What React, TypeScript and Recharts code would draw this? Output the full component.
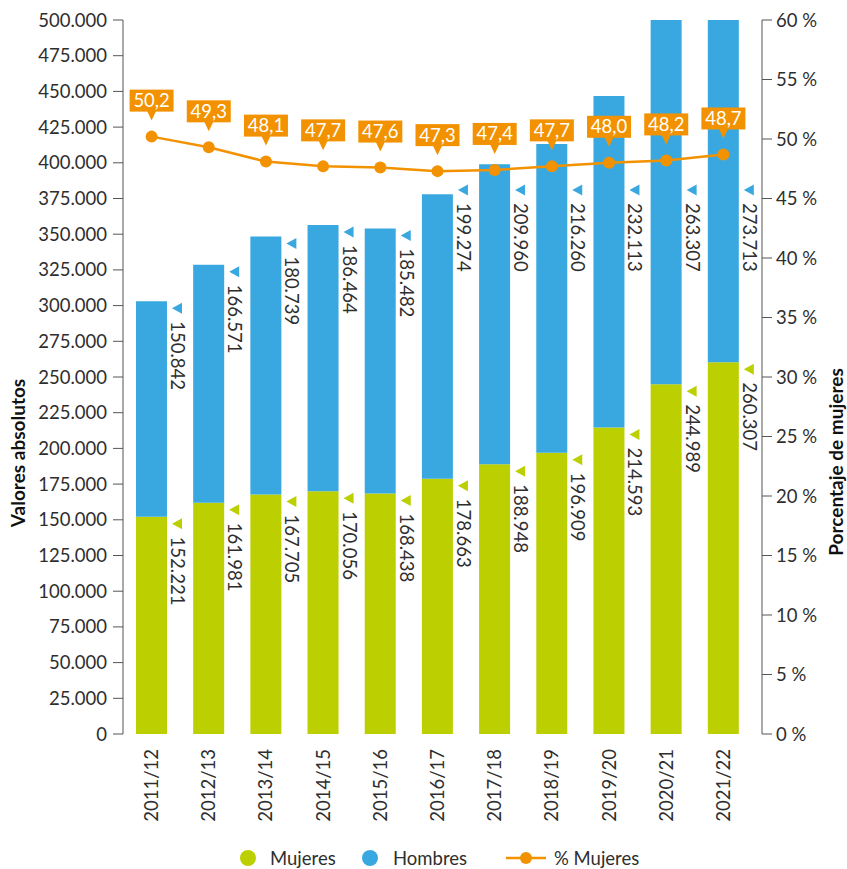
import React from 'react';
import { ComposedChart, Bar, Line, XAxis, YAxis, LabelList } from 'recharts';

const categorias = ['2011/12', '2012/13', '2013/14', '2014/15', '2015/16', '2016/17', '2017/18', '2018/19', '2019/20', '2020/21', '2021/22'];
const mujeres = [152221, 161981, 167705, 170056, 168438, 178663, 188948, 196909, 214593, 244989, 260307];
const hombres = [150842, 166571, 180739, 186464, 185482, 199274, 209960, 216260, 232113, 263307, 273713];
const pctMujeres = [50.2, 49.3, 48.1, 47.7, 47.6, 47.3, 47.4, 47.7, 48.0, 48.2, 48.7];

const ticksAbs = [0, 25000, 50000, 75000, 100000, 125000, 150000, 175000, 200000, 225000, 250000, 275000, 300000, 325000, 350000, 375000, 400000, 425000, 450000, 475000, 500000];
const ticksPct = [0, 5, 10, 15, 20, 25, 30, 35, 40, 45, 50, 55, 60];

const VERDE = '#bccf00';
const AZUL = '#3aa8e0';
const NARANJA = '#f39200';
const TEXTO = '#2e2e2e';
const EJE = '#555';
const FUENTE = 'Lato, "Open Sans", sans-serif';
const TAM = 18.5;
const PESO = 400;

const data = categorias.map((cat, i) => ({
	cat,
	mujeres: mujeres[i],
	hombres: hombres[i],
	pct: pctMujeres[i],
}));

const miles = (n: number) => n.toString().replace(/\B(?=(\d{3})+(?!\d))/g, '.');
const coma = (n: number) => n.toFixed(1).replace('.', ',');

function caja(p: any) {
	const v = p.viewBox || {};
	return {
		x: p.x ?? v.x,
		y: p.y ?? v.y,
		w: p.width ?? v.width ?? 0,
	};
}

// etiqueta girada a la derecha de la barra, con flechita del color de la serie
function etiquetaBarra(valores: number[], color: string, tope: boolean) {
	return (props: any) => {
		const { x, y, w } = caja(props);
		if (x == null || y == null) return null;
		let top = y;
		// las barras altas llevan la etiqueta por debajo de la línea
		if (tope && top < 200) top = 183;
		const tx = x + w + 5;
		const cy = top + 7;
		const bx = x + w + 4;
		const by = top + 20;
		return (
			<g>
				<path d={`M${tx},${cy} L${tx + 10},${cy - 5.5} L${tx + 10},${cy + 5.5} Z`} fill={color} />
				<text x={bx} y={by} transform={`rotate(90, ${bx}, ${by})`} textAnchor="start" fontSize={TAM} fontWeight={PESO} fill={TEXTO} fontFamily={FUENTE}>
					{miles(valores[props.index])}
				</text>
			</g>
		);
	};
}

const etiquetaPct = (props: any) => {
	const { x, y } = caja(props);
	if (x == null || y == null) return null;
	return (
		<g>
			<rect x={x - 22} y={y - 47} width={44} height={22} fill={NARANJA} />
			<path d={`M${x - 4.5},${y - 25.5} L${x + 4.5},${y - 25.5} L${x},${y - 16} Z`} fill={NARANJA} />
			<text x={x} y={y - 29.5} textAnchor="middle" fontSize={TAM} fontWeight={PESO} fill="#fff" fontFamily={FUENTE}>
				{coma(pctMujeres[props.index])}
			</text>
		</g>
	);
};

const TickCat = (props: any) => {
	const { x, y, payload } = props;
	const ty = y + 7;
	return (
		<text x={x} y={ty} dy="0.35em" transform={`rotate(-90, ${x}, ${ty})`} textAnchor="end" fontSize={TAM} fontWeight={PESO} fill={TEXTO} fontFamily={FUENTE}>
			{payload.value}
		</text>
	);
};

const Titulo = (props: any) => {
	const vb = props.viewBox || { x: 0, y: 20, width: 0, height: 714 };
	const cx = props.lado === 'izq' ? vb.x + 18 : vb.x + vb.width - 11;
	const cy = vb.y + vb.height / 2 + props.desp;
	return (
		<text x={cx} y={cy} dy="0.35em" transform={`rotate(-90, ${cx}, ${cy})`} textAnchor="middle" fontSize={19} fontWeight="bold" fill="#111" fontFamily={FUENTE}>
			{props.texto}
		</text>
	);
};

function Punto({ color }: { color: string }) {
	return <span style={{ display: 'inline-block', width: 16, height: 16, borderRadius: 8, background: color }} />;
}

export default function App() {
	const legendText = { fontSize: TAM, fontWeight: PESO, color: TEXTO, fontFamily: FUENTE };
	return (
		<div style={{ position: 'absolute', left: 0, top: 0, width: 847, height: 869, background: '#fff' }}>
			<ComposedChart width={847} height={869} data={data} margin={{ top: 20, right: 0, bottom: 0, left: 0 }} barSize={31}>
				<XAxis dataKey="cat" height={135} axisLine={false} tickLine={false} tick={<TickCat />} interval={0} padding={{ left: 0, right: 10 }} />
				<YAxis
					yAxisId="abs"
					width={123}
					domain={[0, 500000]}
					ticks={ticksAbs}
					interval={0}
					allowDataOverflow
					tickFormatter={miles}
					tickSize={10}
					tickMargin={6}
					axisLine={{ stroke: EJE }}
					tickLine={{ stroke: EJE }}
					tick={{ fontSize: TAM, fontWeight: PESO, fill: TEXTO, fontFamily: FUENTE }}
					label={<Titulo lado="izq" texto="Valores absolutos" desp={76} />}
				/>
				<YAxis
					yAxisId="pct"
					orientation="right"
					width={85}
					domain={[0, 60]}
					ticks={ticksPct}
					interval={0}
					tickFormatter={(v: number) => `${v} %`}
					tickSize={10}
					tickMargin={4}
					axisLine={{ stroke: EJE }}
					tickLine={{ stroke: EJE }}
					tick={{ fontSize: TAM, fontWeight: PESO, fill: TEXTO, fontFamily: FUENTE, textAnchor: 'start' }}
					label={<Titulo lado="der" texto="Porcentaje de mujeres" desp={85} />}
				/>
				<Bar yAxisId="abs" dataKey="mujeres" stackId="a" fill={VERDE} isAnimationActive={false}>
					<LabelList content={etiquetaBarra(mujeres, VERDE, false)} />
				</Bar>
				<Bar yAxisId="abs" dataKey="hombres" stackId="a" fill={AZUL} isAnimationActive={false}>
					<LabelList content={etiquetaBarra(hombres, AZUL, true)} />
				</Bar>
				<Line
					yAxisId="pct"
					dataKey="pct"
					type="linear"
					stroke={NARANJA}
					strokeWidth={2.5}
					dot={{ r: 6, fill: NARANJA, stroke: 'none' }}
					activeDot={false}
					isAnimationActive={false}
				>
					<LabelList content={etiquetaPct} />
				</Line>
			</ComposedChart>

			<div style={{ position: 'absolute', left: 240, top: 847, display: 'flex', alignItems: 'center', ...legendText }}>
				<Punto color={VERDE} />
				<span style={{ marginLeft: 14, width: 72 }}>Mujeres</span>
				<span style={{ marginLeft: 20 }} />
				<Punto color={AZUL} />
				<span style={{ marginLeft: 15, width: 85 }}>Hombres</span>
				<svg width={40} height={16} style={{ marginLeft: 28 }}>
					<line x1={0} y1={8} x2={40} y2={8} stroke={NARANJA} strokeWidth={2.5} />
					<circle cx={20} cy={8} r={6} fill={NARANJA} />
				</svg>
				<span style={{ marginLeft: 8 }}>% Mujeres</span>
			</div>
		</div>
	);
}
